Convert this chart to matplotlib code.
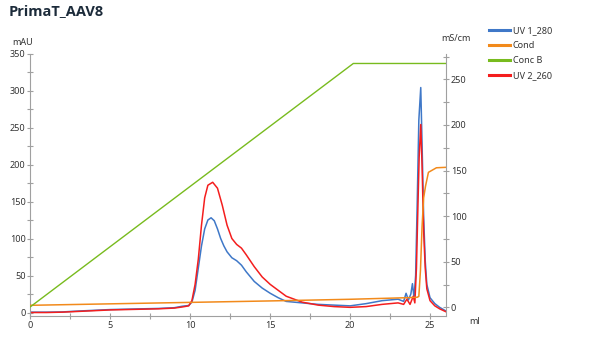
import numpy as np
import matplotlib
matplotlib.use('Agg')
import matplotlib.pyplot as plt
from matplotlib.ticker import MultipleLocator

plt.rcParams['font.family'] = ['Noto Sans', 'DejaVu Sans']

# UV 1_280 (mAU)
uv1_x = [0, 1, 2, 3, 4, 5, 6, 7, 8, 9, 9.5, 9.9, 10.1, 10.3, 10.5, 10.7, 10.9, 11.1,
         11.3, 11.5, 11.7, 11.9, 12.1, 12.3, 12.6, 12.9, 13.2, 13.5, 14.0, 14.5, 15.0,
         15.5, 16.0, 17.0, 18.0, 19.0, 20.0, 21.0, 22.0, 23.0, 23.35, 23.5, 23.65, 23.8,
         23.9, 24.0, 24.1, 24.2, 24.3, 24.42, 24.5, 24.6, 24.7, 24.8, 25.0, 25.3, 25.6, 26.0]
uv1_y = [0.5, 0.5, 0.8, 2, 3, 4, 4.5, 5, 5.5, 6.5, 8.5, 9.5, 14, 30, 60, 90, 113, 125,
         128, 124, 113, 100, 90, 82, 74, 70, 64, 55, 42, 33, 26,
         20, 15, 13, 11, 10, 9, 12, 16, 18, 15, 26, 17, 25,
         39, 20, 50, 150, 260, 304, 230, 130, 70, 38, 20, 12, 7, 2]

# UV 2_260 (mAU)
uv2_x = [0, 1, 2, 3, 4, 5, 6, 7, 8, 9, 9.5, 9.9, 10.1, 10.3, 10.5, 10.7, 10.9, 11.1,
         11.4, 11.7, 12.0, 12.3, 12.6, 12.9, 13.2, 13.5, 14.0, 14.5, 15.0, 15.5, 16.0,
         17.0, 18.0, 19.0, 20.0, 21.0, 22.0, 23.0, 23.35, 23.55, 23.75, 23.95, 24.05,
         24.15, 24.25, 24.32, 24.42, 24.5, 24.6, 24.7, 24.8, 25.0, 25.3, 25.6, 26.0]
uv2_y = [0, 0, 0.5, 1.5, 2.5, 3.5, 4, 4.5, 5, 6, 7.5, 9, 16, 38, 72, 118, 155, 172,
         176, 168, 145, 118, 100, 92, 87, 78, 62, 48, 38, 30, 22,
         14, 10, 8, 7, 8, 11, 13, 11, 18, 11, 22, 13,
         60, 150, 210, 254, 200, 110, 60, 32, 16, 9, 5, 1]

# Cond (mS/cm)
cond_x = [0, 5, 10, 15, 20, 23.5, 24.2, 24.3, 24.4, 24.5, 24.6, 24.72, 24.9, 25.4, 26.0]
cond_y = [2.2, 3.8, 5.4, 7.0, 8.8, 10.5, 11, 12, 40, 88, 120, 133, 148, 153, 153.5]

# Conc B (%)
concb_x = [0, 20.2, 26]
concb_y = [0, 100, 100]

fig = plt.figure(figsize=(6.05, 3.41), dpi=100)
ax = fig.add_axes([0.0504, 0.0742, 0.6868, 0.7689])
ax2 = ax.twinx()
ax3 = ax.twinx()

gray = '#a0a0a0'
txt = '#333333'

l1, = ax.plot(uv1_x, uv1_y, color='#3f78c8', lw=1.1, label='UV 1_280')
l4, = ax.plot(uv2_x, uv2_y, color='#f41e1e', lw=1.1, label='UV 2_260')
l3, = ax3.plot(concb_x, concb_y, color='#78bb1e', lw=1.0, label='Conc B')
l2, = ax2.plot(cond_x, cond_y, color='#f28a1b', lw=1.1, label='Cond')

ax.set_xlim(0, 26)
ax.set_ylim(-4.3, 350)
ax2.set_ylim(-9.2, 278.3)
ax3.set_ylim(-3.7, 104.1)

for a in (ax, ax2, ax3):
    a.spines['top'].set_visible(False)
ax.spines['right'].set_visible(False)
ax3.spines['right'].set_visible(False)
ax3.spines['left'].set_visible(False)
ax3.spines['bottom'].set_visible(False)
ax3.set_yticks([])
ax2.spines['left'].set_visible(False)
ax2.spines['bottom'].set_visible(False)
for s in ('left', 'bottom'):
    ax.spines[s].set_color(gray)
ax2.spines['right'].set_color(gray)

ax.xaxis.set_major_locator(MultipleLocator(5))
ax.xaxis.set_minor_locator(MultipleLocator(2.5))
ax.yaxis.set_major_locator(MultipleLocator(50))
ax.yaxis.set_minor_locator(MultipleLocator(25))
ax2.yaxis.set_major_locator(MultipleLocator(50))
ax2.yaxis.set_minor_locator(MultipleLocator(25))

for a in (ax, ax2):
    a.tick_params(which='both', direction='inout', length=4, width=0.8, color=gray,
                  labelsize=6.5, labelcolor=txt, pad=1.5)

fig.text(0.014, 0.968, 'PrimaT_AAV8', fontsize=10.5, fontweight='bold',
         family=['Open Sans', 'DejaVu Sans'],
         color='#1c2b3a', va='center', ha='left')
fig.text(0.038, 0.874, 'mAU', fontsize=6.5, color=txt, ha='center', va='center')
fig.text(0.753, 0.886, 'mS/cm', fontsize=6.5, color=txt, ha='center', va='center')
fig.text(0.785, 0.056, 'ml', fontsize=6.5, color=txt, ha='center', va='center')

fig.legend(handles=[l1, l2, l3, l4], loc='upper left', bbox_to_anchor=(0.809, 0.923),
           frameon=False, fontsize=6.5, handlelength=2.3, handletextpad=0.3,
           labelspacing=0.66, borderaxespad=0, borderpad=0)
for h in fig.legends[0].legend_handles:
    h.set_linewidth(2.2)
for t in fig.legends[0].get_texts():
    t.set_color(txt)

fig.savefig('out.png', dpi=100)
